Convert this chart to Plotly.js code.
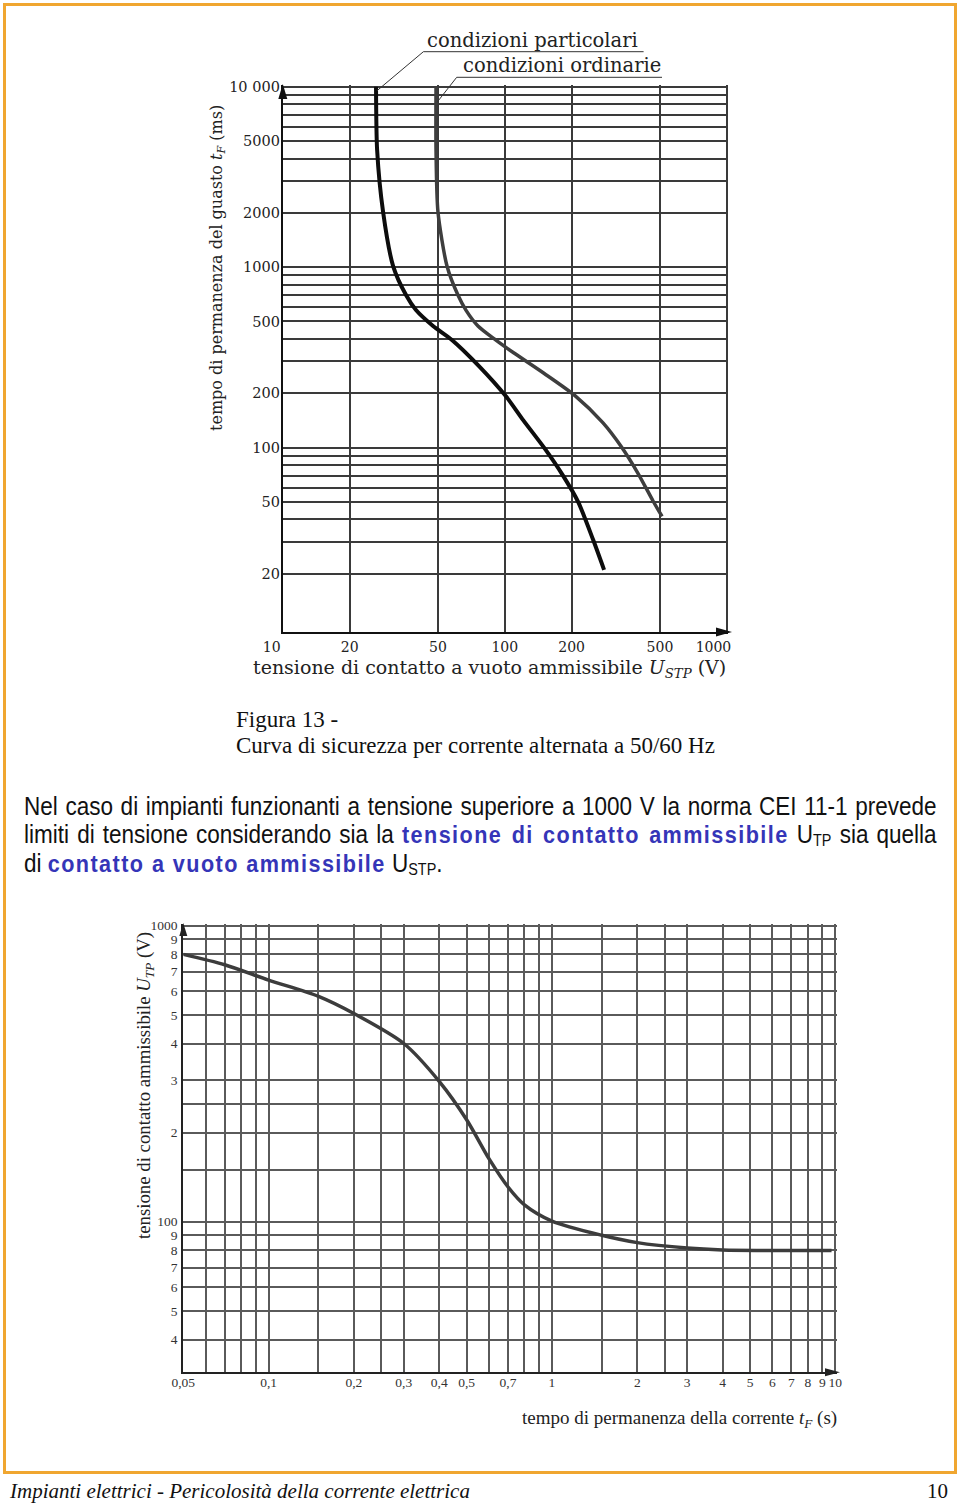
<!DOCTYPE html>
<html>
<head>
<meta charset="utf-8">
<script src="https://cdn.plot.ly/plotly-3.0.1.min.js"></script>
<style>
  html, body { margin:0; padding:0; background:#fff; }
  #page { position:relative; width:960px; height:1503px; overflow:hidden; }
  #chart { position:absolute; left:0; top:0; width:960px; height:1503px; }
  #frame { position:absolute; left:3px; top:3px; width:948px; height:1465px; border:3px solid #F0A630; pointer-events:none; }
  .cap { position:absolute; left:236px; font-family:'Liberation Serif','Times New Roman',serif; font-size:23px; line-height:26px; color:#111; white-space:nowrap; }
  #para { position:absolute; left:24px; top:792px; width:1014px; transform:scaleX(0.9); transform-origin:0 0;
          font-family:'Liberation Sans',Arial,sans-serif; font-size:25px; line-height:28px; color:#111; }
  #para .j { text-align:justify; text-align-last:justify; white-space:nowrap; }
  #para .b { color:#3535B8; font-weight:bold; letter-spacing:1.6px; font-size:24px; }
  #para sub { font-size:16px; vertical-align:-3px; line-height:0; }
  #foot { position:absolute; left:10px; top:1479px; font-family:'Liberation Serif','Times New Roman',serif; font-style:italic; font-size:21px; line-height:24px; color:#111; white-space:nowrap; }
  #pnum { position:absolute; left:927px; top:1479px; font-family:'Liberation Serif','Times New Roman',serif; font-size:21px; line-height:24px; color:#111; }
</style>
</head>
<body>
<div id="page">
  <div id="chart"></div>
  <div id="frame"></div>
  <div class="cap" style="top:707px;">Figura 13 -</div>
  <div class="cap" style="top:733px;">Curva di sicurezza per corrente alternata a 50/60 Hz</div>
  <div id="para">
    <div class="j">Nel caso di impianti funzionanti a tensione superiore a 1000 V la norma CEI 11-1 prevede</div>
    <div class="j">limiti di tensione considerando sia la <span class="b">tensione di contatto ammissibile</span> U<sub>TP</sub> sia quella</div>
    <div>di <span class="b">contatto a vuoto ammissibile</span> U<sub>STP</sub>.</div>
  </div>
  <div id="foot">Impianti elettrici - Pericolosità della corrente elettrica</div>
  <div id="pnum">10</div>
</div>
<script>
// ---- Top chart: U_STP (V) vs t_F (ms) ----
const particolariVolt = [26.3, 26.6, 28.3, 31.4, 35.9, 39.8, 47.5, 57.8, 76.5, 101, 121, 152, 182, 214, 250, 280];
const particolariMs   = [10000, 4460, 2020, 1014, 700, 578, 472, 395, 283, 193, 142, 98, 70.6, 50, 30.8, 21];
const ordinarieVolt = [49, 49, 50, 54.9, 61.5, 66.8, 75.7, 90.9, 110, 150, 207, 277, 335, 398, 466, 511];
const ordinarieMs   = [10000, 4460, 2020, 1014, 700, 578, 472, 395, 334, 258, 194, 137, 101, 72, 50.4, 41.5];

const topXTicks = [10, 20, 50, 100, 200, 500, 1000];
const topXTickText = ['10', '20', '50', '100', '200', '500', '1000'];
const topYTicks = [20, 50, 100, 200, 500, 1000, 2000, 5000, 10000];
const topYTickText = ['20', '50', '100', '200', '500', '1000', '2000', '5000', '10 000'];
const topYMinor = [30, 40, 60, 70, 80, 90, 300, 400, 600, 700, 800, 900, 3000, 4000, 6000, 7000, 8000, 9000];

// ---- Bottom chart: U_TP (V) vs t_F (s) ----
const tpTimeS = [0.05, 0.07, 0.1, 0.15, 0.2, 0.3, 0.4, 0.5, 0.6, 0.7, 0.8, 1, 1.5, 2, 3, 4, 6, 9.7];
const tpVolt  = [800, 738, 655, 577, 505, 400, 298, 221, 163, 131, 114, 100.5, 90, 85, 81.5, 80.3, 80, 80];

const botXTicks = [0.05, 0.1, 0.2, 0.3, 0.4, 0.5, 0.7, 1, 2, 3, 4, 5, 6, 7, 8, 9, 10];
const botXTickText = ['0,05', '0,1', '0,2', '0,3', '0,4', '0,5', '0,7', '1', '2', '3', '4', '5', '6', '7', '8', '9', '10'];
const botXMinor = [0.06, 0.07, 0.08, 0.09, 0.15, 0.25, 0.6, 0.8, 0.9, 1.5, 2.5];
const botYTicks = [40, 50, 60, 70, 80, 90, 100, 200, 300, 400, 500, 600, 700, 800, 900, 1000];
const botYTickText = ['4', '5', '6', '7', '8', '9', '100', '2', '3', '4', '5', '6', '7', '8', '9', '1000'];
const botYMinor = [150, 250];

const W = 960, H = 1503;
const px = v => v / W;
const py = v => 1 - v / H;

const serifTop = 'DejaVu Serif, serif';
const serifBot = 'Liberation Serif, serif';
const NB = '\u00a0';

// the first and last x labels of the top chart sit a little left of their gridlines
const topXLabels = topXTickText.map((t, i) =>
  i === 0 ? t + NB.repeat(5) : (i === topXTickText.length - 1 ? t + NB.repeat(6) : t));

// small filled triangle (axis arrow), tip (tx,ty) in page pixels, direction 'up' or 'right'
function arrowPath(tx, ty, dir, len, half) {
  if (dir === 'up') {
    return `M ${px(tx)} ${py(ty)} L ${px(tx - half)} ${py(ty + len)} L ${px(tx + half)} ${py(ty + len)} Z`;
  }
  return `M ${px(tx)} ${py(ty)} L ${px(tx - len)} ${py(ty - half)} L ${px(tx - len)} ${py(ty + half)} Z`;
}

const traces = [
  { x: particolariVolt, y: particolariMs, type: 'scatter', mode: 'lines', xaxis: 'x', yaxis: 'y',
    line: { color: '#0d0d0d', width: 4, shape: 'spline', smoothing: 0.7 }, name: 'condizioni particolari', hoverinfo: 'skip' },
  { x: ordinarieVolt, y: ordinarieMs, type: 'scatter', mode: 'lines', xaxis: 'x', yaxis: 'y',
    line: { color: '#3e3e3e', width: 3.5, shape: 'spline', smoothing: 0.7 }, name: 'condizioni ordinarie', hoverinfo: 'skip' },
  { x: tpTimeS, y: tpVolt, type: 'scatter', mode: 'lines', xaxis: 'x2', yaxis: 'y2',
    line: { color: '#3c3c3c', width: 3.5, shape: 'spline', smoothing: 0.8 }, name: 'U_TP', hoverinfo: 'skip' }
];

const topGrid = '#3a3a3a', botGrid = '#5a5a5a';

const layout = {
  width: W, height: H,
  margin: { l: 0, r: 0, t: 0, b: 0 },
  paper_bgcolor: '#ffffff', plot_bgcolor: '#ffffff',
  showlegend: false,
  xaxis: {
    type: 'log', range: [1, 3 + 1.5 / 222], domain: [px(282.8), px(728.3)], anchor: 'y',
    tickmode: 'array', tickvals: topXTicks, ticktext: topXLabels, tickangle: 0,
    showgrid: true, gridcolor: topGrid, gridwidth: 2,
    showline: true, linecolor: '#111', linewidth: 2, zeroline: false,
    ticks: '', ticklabelstandoff: 1,
    tickfont: { family: serifTop, size: 14, color: '#222' }
  },
  yaxis: {
    type: 'log', range: [Math.log10(9.5), 4 + 1.5 / 180.5], domain: [py(632), py(85.2)], anchor: 'x',
    tickmode: 'array', tickvals: topYTicks, ticktext: topYTickText,
    showgrid: true, gridcolor: topGrid, gridwidth: 2,
    minor: { tickmode: 'array', tickvals: topYMinor, showgrid: true, gridcolor: topGrid, gridwidth: 2, ticks: '' },
    showline: true, linecolor: '#111', linewidth: 2, zeroline: false,
    ticks: '', ticklabelstandoff: -2,
    tickfont: { family: serifTop, size: 14.5, color: '#222' }
  },
  xaxis2: {
    type: 'log', range: [Math.log10(0.05), 1 + 1.5 / 283.4], domain: [px(183.3), px(836.8)], anchor: 'y2',
    tickmode: 'array', tickvals: botXTicks, ticktext: botXTickText, tickangle: 0,
    showgrid: true, gridcolor: botGrid, gridwidth: 2,
    minor: { tickmode: 'array', tickvals: botXMinor, showgrid: true, gridcolor: botGrid, gridwidth: 2, ticks: '' },
    showline: true, linecolor: '#222', linewidth: 2, zeroline: false,
    ticks: '', ticklabelstandoff: -4,
    tickfont: { family: serifBot, size: 13.5, color: '#333' }
  },
  yaxis2: {
    type: 'log', range: [Math.log10(31), 3 + 1.5 / 296], domain: [py(1372.3), py(924.2)], anchor: 'x2',
    tickmode: 'array', tickvals: botYTicks, ticktext: botYTickText,
    showgrid: true, gridcolor: botGrid, gridwidth: 2,
    minor: { tickmode: 'array', tickvals: botYMinor, showgrid: true, gridcolor: botGrid, gridwidth: 2, ticks: '' },
    showline: true, linecolor: '#222', linewidth: 2, zeroline: false,
    ticks: '', ticklabelstandoff: 1,
    tickfont: { family: serifBot, size: 13.5, color: '#333' }
  },
  shapes: [
    // label underlines and leader lines
    { type: 'line', xref: 'paper', yref: 'paper', x0: px(423.4), x1: px(643.6), y0: py(51.7), y1: py(51.7), line: { color: '#333', width: 1 } },
    { type: 'line', xref: 'paper', yref: 'paper', x0: px(423.4), x1: px(377), y0: py(51.7), y1: py(90.7), line: { color: '#333', width: 1 } },
    { type: 'line', xref: 'paper', yref: 'paper', x0: px(456.7), x1: px(662), y0: py(77.3), y1: py(77.3), line: { color: '#333', width: 1 } },
    { type: 'line', xref: 'paper', yref: 'paper', x0: px(456.7), x1: px(437.5), y0: py(77.3), y1: py(101.7), line: { color: '#333', width: 1 } },
    // axis arrows
    { type: 'path', xref: 'paper', yref: 'paper', path: arrowPath(282.8, 84, 'up', 15, 4.5), fillcolor: '#111', line: { width: 0 } },
    { type: 'path', xref: 'paper', yref: 'paper', path: arrowPath(732, 632, 'right', 16, 4.5), fillcolor: '#111', line: { width: 0 } },
    { type: 'path', xref: 'paper', yref: 'paper', path: arrowPath(183.3, 923, 'up', 13, 4), fillcolor: '#222', line: { width: 0 } },
    { type: 'path', xref: 'paper', yref: 'paper', path: arrowPath(840, 1372.3, 'right', 15, 4), fillcolor: '#222', line: { width: 0 } }
  ],
  annotations: [
    { xref: 'paper', yref: 'paper', x: px(532), y: py(40), xanchor: 'center', yanchor: 'middle', text: 'condizioni particolari', showarrow: false,
      font: { family: serifTop, size: 19.5, color: '#222' } },
    { xref: 'paper', yref: 'paper', x: px(561.5), y: py(65), xanchor: 'center', yanchor: 'middle', text: 'condizioni ordinarie', showarrow: false,
      font: { family: serifTop, size: 19.5, color: '#222' } },
    { xref: 'paper', yref: 'paper', x: px(490), y: py(668), xanchor: 'center', yanchor: 'middle', showarrow: false,
      text: 'tensione di contatto a vuoto ammissibile <i>U<sub>STP</sub></i> (V)', font: { family: serifTop, size: 19, color: '#222' } },
    { xref: 'paper', yref: 'paper', x: px(217), y: py(268), xanchor: 'center', yanchor: 'middle', textangle: -90, showarrow: false,
      text: 'tempo di permanenza del guasto <i>t<sub>F</sub></i> (ms)', font: { family: serifTop, size: 16, color: '#222' } },
    { xref: 'paper', yref: 'paper', x: px(145), y: py(1086), xanchor: 'center', yanchor: 'middle', textangle: -90, showarrow: false,
      text: 'tensione di contatto ammissibile <i>U<sub>TP</sub></i> (V)', font: { family: serifBot, size: 18.8, color: '#222' } },
    { xref: 'paper', yref: 'paper', x: px(679), y: py(1419), xanchor: 'center', yanchor: 'middle', showarrow: false,
      text: 'tempo di permanenza della corrente <i>t<sub>F</sub></i> (s)', font: { family: serifBot, size: 19, color: '#222' } }
  ]
};

Plotly.newPlot('chart', traces, layout, { displayModeBar: false, responsive: false });
</script>
</body>
</html>
